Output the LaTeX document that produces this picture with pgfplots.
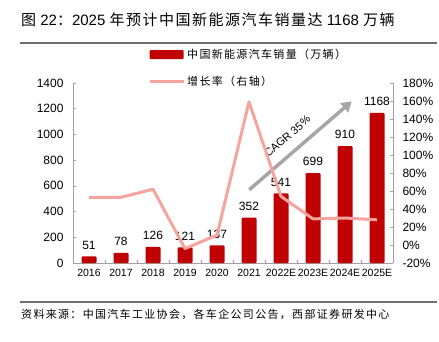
\documentclass[border=0pt]{standalone}
\usepackage{fontspec}
\setmainfont{Liberation Sans}
\newfontfamily\cjk[LetterSpace=10]{Noto Sans CJK SC}
\newfontfamily\cjksp[LetterSpace=12]{Noto Sans CJK SC}
\usepackage{pgfplots}
\pgfplotsset{compat=1.18}
\usetikzlibrary{arrows.meta}
\definecolor{barred}{HTML}{C00000}
\definecolor{pinkline}{HTML}{F5A49E}
\definecolor{arrowgray}{HTML}{A6A6A6}
\definecolor{axgray}{HTML}{A0A0A0}
\definecolor{rulegray}{HTML}{707070}
\begin{document}
\begin{tikzpicture}
\path[use as bounding box] (0pt,0pt) rectangle (439pt,341pt);
% title and rules
\node[anchor=west, inner sep=0, font=\fontsize{15}{17}\selectfont] at (21pt,321pt) {{\cjk 图} 22{\cjk ：}2025 {\cjk 年预计中国新能源汽车销量达} 1168 {\cjk 万辆}};
\draw[rulegray, line width=1.2pt] (20pt,298pt) -- (437pt,298pt);
\draw[rulegray, line width=1.2pt] (20pt,39pt) -- (437pt,39pt);
\node[anchor=west, inner sep=0, font=\cjksp\fontsize{11}{13}\selectfont] at (21pt,27pt) {资料来源：中国汽车工业协会，各车企公司公告，西部证券研发中心};

\begin{axis}[at={(73pt,78pt)}, anchor=south west, width=320pt, height=180pt, scale only axis,
  xmin=-0.5, xmax=9.5, ymin=0, ymax=1400, ytick={0,200,...,1400},
  xtick={0,...,9}, xticklabels={2016,2017,2018,2019,2020,2021,2022E,2023E,2024E,2025E},
  axis x line*=bottom, axis y line*=left, tick align=inside,
  axis line style={axgray, line width=0.8pt},
  major x tick style={draw=none},
  minor xtick={-0.5,0.5,...,9.5}, minor x tick style={axgray, line width=0.6pt}, minor tick length=3pt,
  y tick style={axgray, line width=0.6pt}, major tick length=3pt,
  /pgf/number format/assume math mode=true, /pgf/number format/1000 sep={},
  yticklabel style={font=\fontsize{12}{14}\selectfont, xshift=-6pt},
  xticklabel style={font=\fontsize{10.5}{12}\selectfont, yshift=-3pt},
  legend style={at={(0.2344,1.20)}, anchor=north west, draw=none, fill=none, inner sep=0pt,
     row sep=12pt, font=\cjksp\fontsize{11}{13}\selectfont,
     nodes={inner sep=2pt}},
  legend cell align=left,
  clip=false,
]
\addplot[ybar, bar width=15pt, fill=barred, draw=none, rounded corners=1pt,
  nodes near coords, point meta=explicit symbolic,
  every node near coord/.append style={anchor=south, inner sep=0pt, yshift=7pt, text=black, font=\fontsize{12}{14}\selectfont},
  legend image code/.code={\fill[barred, rounded corners=1pt] (0pt,-4.5pt) rectangle (34pt,4.5pt);}]
  coordinates {(0,51)[51] (1,78)[78] (2,126)[126] (3,121)[121] (4,137)[137] (5,352)[352] (6,541)[541] (7,699)[699] (8,910)[910] (9,1168)[1168]};
\addlegendentry{中国新能源汽车销量（万辆）}
\addlegendimage{legend image code/.code={\draw[pinkline, line width=3pt] (0pt,0pt) -- (34pt,0pt);}}
\addlegendentry{增长率（右轴）}
\draw[arrowgray, line width=3.5pt, -{Triangle[length=10pt,width=12pt]}] (axis cs:5.01,570) -- (axis cs:8.21,1257);
\node[rotate=41, font=\fontsize{11}{13}\selectfont, inner sep=0pt] at (axis cs:6.2,985) {CAGR 35\%};
\end{axis}

\begin{axis}[at={(73pt,78pt)}, anchor=south west, width=320pt, height=180pt, scale only axis,
  xmin=-0.5, xmax=9.5, ymin=-20, ymax=180, ytick={-20,0,...,180},
  axis y line*=right, axis x line=none, tick align=inside,
  axis line style={axgray, line width=0.8pt},
  y tick style={axgray, line width=0.6pt}, major tick length=3pt,
  /pgf/number format/assume math mode=true,
  yticklabel={\pgfmathprintnumber{\tick}\%},
  yticklabel style={font=\fontsize{12}{14}\selectfont, xshift=6pt},
]
\addplot[pinkline, line width=3pt, line join=round, mark=none] coordinates {(0,53) (1,53) (2,62) (3,-4) (4,11) (5,159) (6,54) (7,29) (8,30) (9,28)};
\end{axis}
\end{tikzpicture}
\end{document}
